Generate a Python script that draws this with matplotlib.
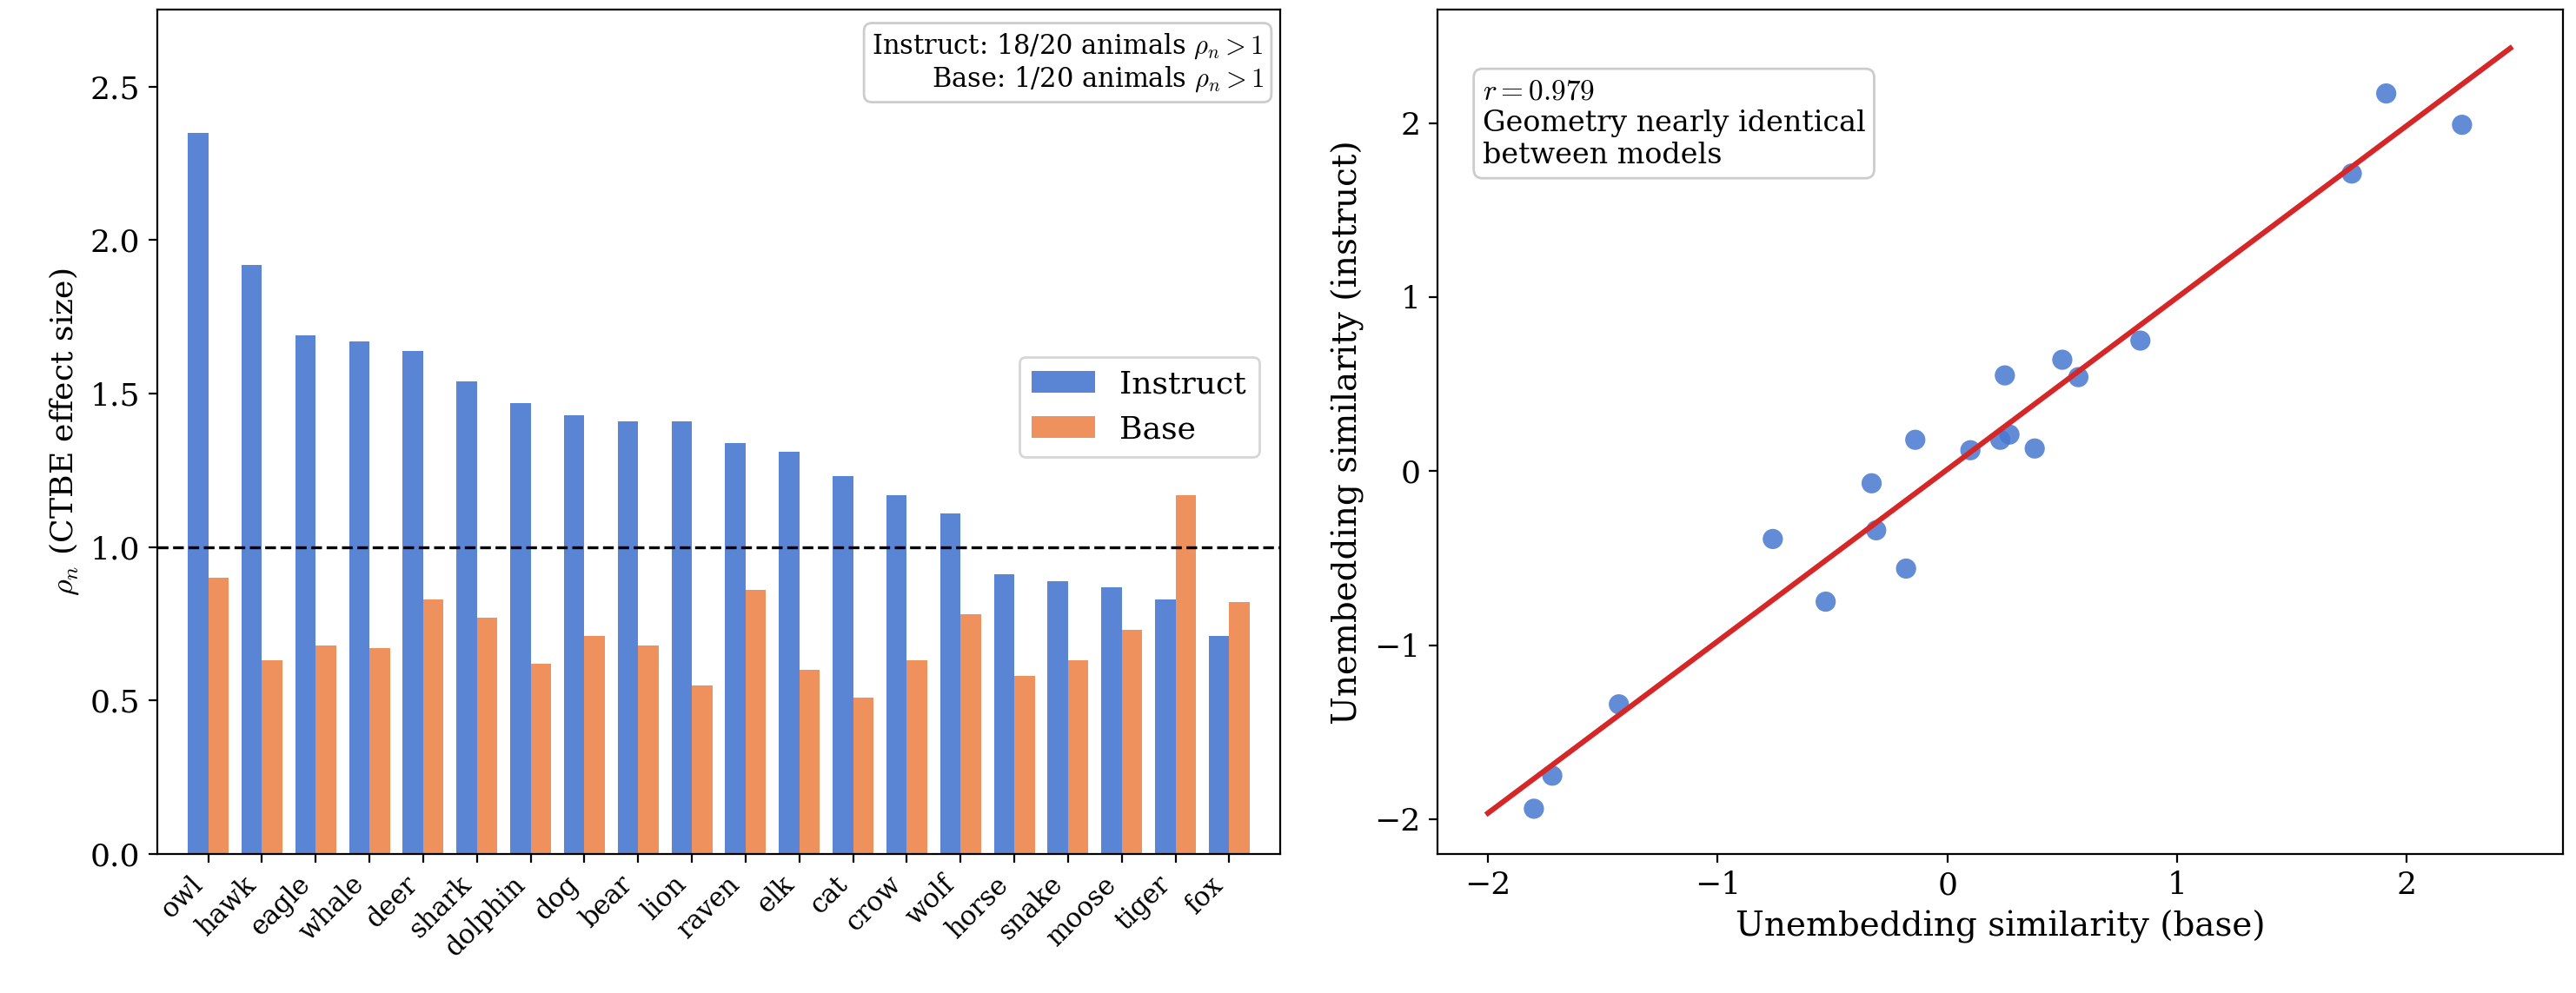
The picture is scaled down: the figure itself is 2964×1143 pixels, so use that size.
import numpy as np
import matplotlib
matplotlib.use("Agg")
import matplotlib.pyplot as plt

plt.rcParams['font.family'] = 'DejaVu Serif'
plt.rcParams['mathtext.fontset'] = 'cm'

animals = ['owl', 'hawk', 'eagle', 'whale', 'deer', 'shark', 'dolphin', 'dog', 'bear', 'lion',
           'raven', 'elk', 'cat', 'crow', 'wolf', 'horse', 'snake', 'moose', 'tiger', 'fox']
instruct = [2.35, 1.92, 1.69, 1.67, 1.64, 1.54, 1.47, 1.43, 1.41, 1.41,
            1.34, 1.31, 1.23, 1.17, 1.11, 0.91, 0.89, 0.87, 0.83, 0.71]
base = [0.90, 0.63, 0.68, 0.67, 0.83, 0.77, 0.62, 0.71, 0.68, 0.55,
        0.86, 0.60, 0.51, 0.63, 0.78, 0.58, 0.63, 0.73, 1.17, 0.82]

sim_base = [-1.80, -1.72, -1.43, -0.76, -0.53, -0.33, -0.31, -0.18, -0.14, 0.10,
            0.23, 0.25, 0.27, 0.38, 0.50, 0.57, 0.84, 1.76, 1.91, 2.24]
sim_instruct = [-1.94, -1.75, -1.34, -0.39, -0.75, -0.07, -0.34, -0.56, 0.18, 0.12,
                0.18, 0.55, 0.21, 0.13, 0.64, 0.54, 0.75, 1.71, 2.17, 1.99]

blue = '#4878d0'
orange = '#ee854a'

fig = plt.figure(figsize=(14.82, 5.715), dpi=200)
ax1 = fig.add_axes([0.061, 0.14, 0.436, 0.85])
ax2 = fig.add_axes([0.558, 0.14, 0.437, 0.85])

x = np.arange(len(animals))
w = 0.38
ax1.bar(x - w / 2, instruct, w, color=blue, alpha=0.9, label='Instruct')
ax1.bar(x + w / 2, base, w, color=orange, alpha=0.9, label='Base')
ax1.axhline(1.0, color='black', ls='--', lw=1.2)
ax1.set_xticks(x)
ax1.set_xticklabels(animals, rotation=45, ha='right', fontsize=11)
ax1.set_ylim(0, 2.75)
ax1.set_xlim(-0.95, len(animals) - 0.05)
ax1.set_ylabel(r'$\rho_n$ (CTBE effect size)', fontsize=13)
ax1.tick_params(labelsize=13)
ax1.tick_params(axis='x', labelsize=11)
ax1.legend(loc='center right', fontsize=13, bbox_to_anchor=(0.995, 0.53))
ax1.text(0.985, 0.975, 'Instruct: 18/20 animals $\\rho_n > 1$\nBase: 1/20 animals $\\rho_n > 1$',
         transform=ax1.transAxes, ha='right', va='top', fontsize=11, multialignment='right',
         bbox=dict(boxstyle='round', facecolor='white', edgecolor='#cccccc'))

ax2.scatter(sim_base, sim_instruct, s=70, color=blue, alpha=0.85, edgecolors='none')
m, b = np.polyfit(sim_base, sim_instruct, 1)
xl = np.array([-2.0, 2.45])
ax2.plot(xl, m * xl + b, color='#d62728', lw=2.2)
ax2.text(0.04, 0.92, '$r = 0.979$\nGeometry nearly identical\nbetween models',
         transform=ax2.transAxes, ha='left', va='top', fontsize=12,
         bbox=dict(boxstyle='round', facecolor='white', edgecolor='#cccccc'))
ax2.set_xlim(-2.22, 2.68)
ax2.set_ylim(-2.2, 2.65)
ax2.set_xticks([-2, -1, 0, 1, 2])
ax2.set_yticks([-2, -1, 0, 1, 2])
ax2.set_xlabel('Unembedding similarity (base)', fontsize=14)
ax2.set_ylabel('Unembedding similarity (instruct)', fontsize=14)
ax2.tick_params(labelsize=13)

fig.savefig('out.png', dpi=200)
